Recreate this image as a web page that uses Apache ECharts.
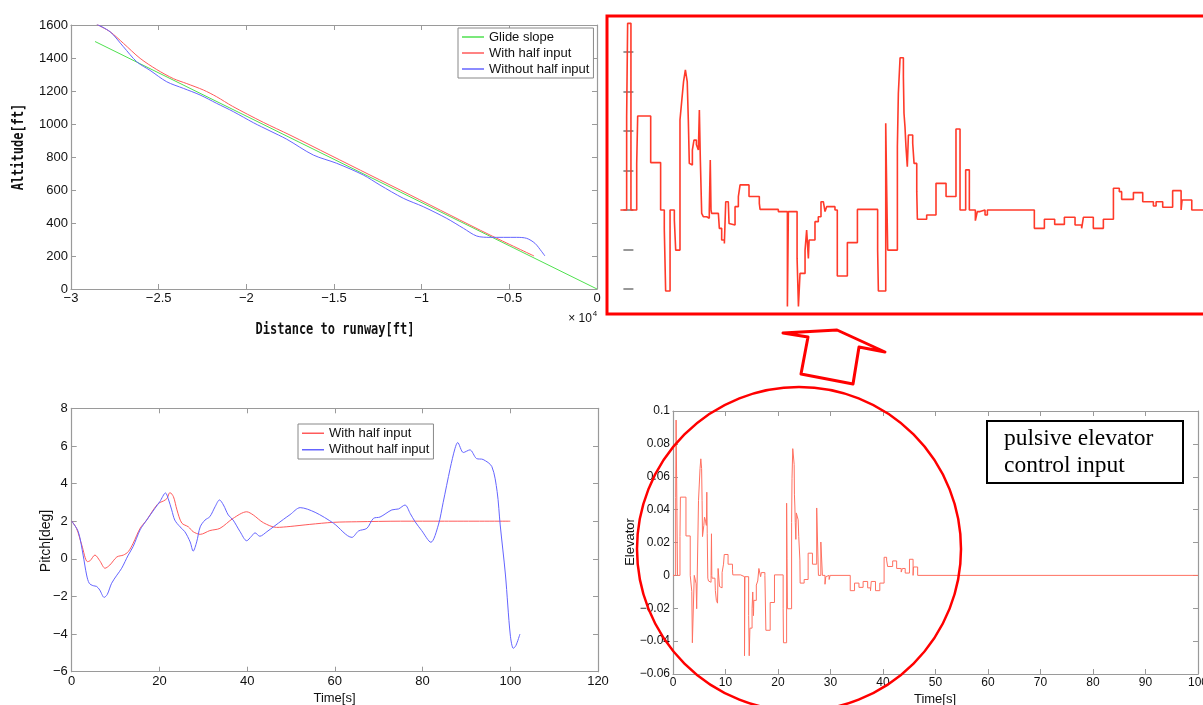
<!DOCTYPE html>
<html><head><meta charset="utf-8">
<script src="https://cdn.jsdelivr.net/npm/echarts@6/dist/echarts.min.js"></script>
<style>html,body{margin:0;padding:0;background:#fff}#c{width:1203px;height:705px}</style>
</head><body><div id="c"></div>
<script>
// ---------- Altitude vs distance (ft) ----------
const glideDist = [-28630, 0];
const glideAlt = [1500, 0];
const withDist = [-28530,-27770,-27010,-26060,-25110,-24160,-23400,-22450,-21690,-20800,-19030,-17510,-15230,-12950,-10660,-8380,-6100,-3590];
const withAlt  = [1604,1559,1489,1398,1330,1275,1245,1206,1165,1108,1010,933,812,691,570,448,327,200];
const withoutDist = [-28530,-27770,-27010,-26250,-25490,-24540,-23590,-22640,-21690,-20740,-19600,-18650,-17700,-16180,-14850,-13330,-12380,-11050,-9910,-8570,-7620,-6860,-6100,-4580,-4010,-3540,-3150,-2970];
const withoutAlt  = [1604,1559,1468,1377,1325,1256,1216,1176,1125,1075,1008,958,908,812,762,691,630,550,499,428,368,321,313,313,307,277,226,200];

// ---------- Pitch vs time ----------
const pitchWithT = [0,1.1,2.3,3.6,4.2,5.3,6.4,7.6,8.7,10.3,11.8,12.9,14.0,15.6,17.1,18.6,19.8,20.9,21.7,22.4,23.2,24.0,25.1,26.6,27.7,29.3,31.5,33.8,36.8,39.9,41.4,43.7,46.7,49.8,54.3,59.7,65,75,85,100];
const pitchWithV = [2.0,1.62,0.73,-0.15,-0.1,0.2,-0.1,-0.5,-0.33,0.1,0.2,0.38,0.82,1.62,2.06,2.6,2.95,3.07,3.2,3.52,3.3,2.6,1.9,1.7,1.44,1.3,1.5,1.62,2.15,2.5,2.33,1.92,1.67,1.72,1.83,1.94,1.97,2.0,2.0,2.0];
const pitchWithoutT = [0,1.5,2.6,3.4,4.0,4.9,5.7,6.4,7.4,8.1,9.1,10.3,11.4,12.9,14.0,15.6,17.1,19.0,20.1,21.4,22.0,22.8,23.5,24.7,25.8,27.0,27.7,28.5,29.3,30.4,31.5,32.7,33.7,34.6,35.7,36.8,38.4,39.9,41.0,41.8,42.9,44.5,46.0,48.3,49.8,52.1,55.5,59.7,63.9,65.4,67.3,68.8,70.3,73.0,74.5,76.0,77.2,78.3,79.8,81.9,83.6,84.7,86.3,87.4,88.0,89.3,90.8,92.3,93.8,95.8,97.0,97.7,98.9,100.0,100.7,101.3,102.2];
const pitchWithoutV = [2.0,1.44,0.2,-0.86,-1.3,-1.43,-1.47,-1.66,-2.05,-1.9,-1.3,-0.87,-0.5,0.2,0.65,1.54,2.06,2.69,3.04,3.5,3.2,2.6,2.06,1.7,1.44,0.9,0.41,0.9,1.7,2.06,2.24,2.77,3.13,2.86,2.33,2.06,1.44,0.96,1.2,1.38,1.2,1.44,1.7,2.1,2.35,2.72,2.47,1.89,1.14,1.48,1.62,2.15,2.22,2.6,2.65,2.86,2.4,1.97,1.5,0.88,1.8,3.0,4.81,5.87,6.18,5.65,5.79,5.33,5.28,4.9,3.57,1.8,-0.86,-4.05,-4.76,-4.6,-4.0];

// ---------- Elevator input (zero-order hold change points) ----------
const elevT = [0,0.51,0.59,0.86,1.33,1.41,2.47,3.28,3.58,3.69,4.05,4.40,4.51,4.86,5.0,5.15,5.3,5.45,5.54,5.62,5.75,5.87,6.0,6.2,6.36,6.44,6.52,6.63,6.76,7.04,7.25,7.33,7.39,7.44,7.99,8.07,8.26,8.48,8.59,8.80,8.86,9.02,9.35,9.62,9.76,10.49,11.33,11.39,12.88,13.62,13.70,14.41,14.52,14.65,15.06,15.19,15.33,15.39,15.87,16.14,16.36,16.55,16.69,16.82,17.50,17.69,18.51,19.33,20.98,21.04,21.64,21.72,21.80,22.59,22.67,22.81,23.08,23.13,23.21,23.29,23.40,23.49,23.84,23.95,24.17,24.22,24.98,25.74,26.56,27.37,27.70,28.16,28.46,28.95,29.11,29.33,29.74,29.93,33.76,34.58,35.42,36.21,37.08,37.62,37.76,38.57,39.39,40.21,40.69,40.88,41.84,42.60,43.47,43.69,44.23,45.04,45.73,45.81,46.60,100];
const elevV = [0,0.0473,0.0945,0,0.0236,0.0476,0.0240,0,-0.0098,-0.041,0,-0.0051,-0.0203,0.0456,0.055,0.065,0.0709,0.065,0.0456,0.0236,0.0228,0.0304,0.0354,0.033,0.0304,0.0506,0.0253,-0.0017,-0.0034,-0.0042,0,0.0253,0,-0.0017,-0.0008,-0.0093,-0.0152,-0.0169,0.0042,0.0034,-0.0068,-0.0076,0.0017,0.0068,0.0127,0.0068,0.0034,0.0003,-0.0008,-0.0489,-0.0008,-0.0245,-0.0489,-0.0321,-0.0203,-0.0101,-0.0245,-0.0152,-0.0059,-0.0034,0.0042,0.0037,-0.0008,0.0017,0,-0.0334,-0.0165,0.0003,-0.0203,-0.041,0.0439,0.0101,-0.0203,0.0321,0.0591,0.0771,0.0675,0.049,0.0422,0.0321,0.0219,0.038,0.0338,0.0236,0.0093,-0.0047,-0.0025,0.0135,0.0068,0.041,0,0.0203,0,-0.0054,-0.0008,0,-0.0025,0,-0.0093,-0.0047,-0.0073,-0.0037,-0.0076,-0.0093,-0.0037,-0.0093,-0.0047,0.011,0.0093,0.0054,0.0088,0.0042,0.002,0.0042,0.0014,0.0098,0,0.0051,0,0];

const legendTop = ['Glide slope', 'With half input', 'Without half input'];
const legendBottom = ['With half input', 'Without half input'];

const GREEN = '#4fe04f', RED = '#ff5a5a', BLUE = '#6464ff';
const AX = '#9a9a9a';
const pts = (xs, ys) => xs.map((x, i) => [x, ys[i]]);
const fmt = v => { const n = Number((+v).toFixed(4)); return n < 0 ? '\u2212' + String(-n) : String(n); };

function axisPair(kind, gridIndex, min, max, interval, fontSize, margin, formatter) {
  const common = {
    type: 'value', gridIndex, min, max, interval, splitLine: { show: false },
    axisLine: { show: true, onZero: false, lineStyle: { color: AX, width: 1.2 } },
    axisTick: { show: true, inside: true, length: 5, lineStyle: { color: AX, width: 1 } }
  };
  const main = Object.assign({}, common, {
    position: kind === 'x' ? 'bottom' : 'left',
    axisLabel: { show: true, margin, fontSize, fontFamily: 'Liberation Sans', color: '#111',
      formatter, showMinLabel: true, showMaxLabel: true, hideOverlap: false }
  });
  const opp = Object.assign({}, common, { position: kind === 'x' ? 'top' : 'right', axisLabel: { show: false } });
  return [main, opp];
}

const xAxes = [], yAxes = [];
xAxes.push(...axisPair('x', 0, -30000, 0, 5000, 13, 3, v => fmt(v / 10000)));   // 0,1
yAxes.push(...axisPair('y', 0, 0, 1600, 200, 13, 3, fmt));                       // 0,1
xAxes.push({ type: 'value', gridIndex: 1, min: 0, max: 47.5, show: false });     // 2
yAxes.push({ type: 'value', gridIndex: 1, min: -0.04, max: 0.08, interval: 0.02, position: 'left', offset: -3,
  axisLine: { show: false }, axisLabel: { show: false }, splitLine: { show: false },
  axisTick: { show: true, inside: true, length: 10, lineStyle: { color: '#777', width: 1.5 } } }); // 2
xAxes.push(...axisPair('x', 2, 0, 120, 20, 13, 3, fmt));                          // 3,4
yAxes.push(...axisPair('y', 2, -6, 8, 2, 13, 4, fmt));                            // 3,4
xAxes.push(...axisPair('x', 3, 0, 100, 10, 12, 3, fmt));                          // 5,6
yAxes.push(...axisPair('y', 3, -0.06, 0.1, 0.02, 12, 3, fmt));                    // 5,6

const lineS = (name, xi, yi, data, color, width, extra) => Object.assign({
  name, type: 'line', xAxisIndex: xi, yAxisIndex: yi, data, symbol: 'none', showSymbol: false,
  lineStyle: { color, width }, itemStyle: { color }, silent: true
}, extra || {});

const legendCommon = {
  orient: 'vertical', icon: 'rect', itemWidth: 22, itemHeight: 1.5, itemGap: 0,
  borderColor: '#888', borderWidth: 1, backgroundColor: '#fff', selectedMode: false,
  textStyle: { fontSize: 13, fontFamily: 'Liberation Sans', color: '#111' }
};

const option = {
  animation: false,
  backgroundColor: '#fff',
  grid: [
    { left: 71, top: 25, width: 526, height: 264, outerBoundsMode: 'none' },
    { left: 620.4, top: 52, width: 582.4, height: 237, outerBoundsMode: 'none' },
    { left: 71.7, top: 408.3, width: 526.3, height: 263.4, outerBoundsMode: 'none' },
    { left: 673, top: 411, width: 525, height: 263, outerBoundsMode: 'none' }
  ],
  xAxis: xAxes,
  yAxis: yAxes,
  legend: [
    Object.assign({}, legendCommon, { left: 458, top: 28, padding: [1, 4, 1, 4], data: legendTop,
      textStyle: Object.assign({}, legendCommon.textStyle, { lineHeight: 16 }) }),
    Object.assign({}, legendCommon, { left: 298, top: 424, padding: [1, 4, 1, 4], data: legendBottom,
      textStyle: Object.assign({}, legendCommon.textStyle, { lineHeight: 16.5 }) })
  ],
  series: [
    lineS('Glide slope', 0, 0, pts(glideDist, glideAlt), GREEN, 1),
    lineS('With half input', 0, 0, pts(withDist, withAlt), RED, 1, { smooth: 0.3 }),
    lineS('Without half input', 0, 0, pts(withoutDist, withoutAlt), BLUE, 1, { smooth: 0.3 }),
    lineS('Elevator (zoomed)', 2, 2, pts(elevT, elevV), '#ff3a2a', 1.6, { step: 'end', clip: false }),
    lineS('With half input', 3, 3, pts(pitchWithT, pitchWithV), RED, 1, { smooth: 0.3 }),
    lineS('Without half input', 3, 3, pts(pitchWithoutT, pitchWithoutV), BLUE, 1, { smooth: 0.3 }),
    lineS('Elevator', 5, 5, pts(elevT, elevV), '#ff7060', 1, { step: 'end' })
  ],
  graphic: [
    { type: 'text', x: 19, y: 147, rotation: Math.PI / 2, scaleY: 1.35, z: 50,
      style: { text: 'Altitude[ft]', fill: '#111', font: 'bold 12px "DejaVu Sans Mono"', align: 'center', verticalAlign: 'middle' } },
    { type: 'text', x: 335, y: 330, scaleY: 1.35, z: 50,
      style: { text: 'Distance to runway[ft]', fill: '#111', font: 'bold 12px "DejaVu Sans Mono"', align: 'center', verticalAlign: 'middle' } },
    { type: 'text', x: 580, y: 319, z: 50,
      style: { text: '\u00d7 10', fill: '#111', font: '12px "Liberation Sans"', align: 'center', verticalAlign: 'middle' } },
    { type: 'text', x: 595, y: 314, z: 50,
      style: { text: '4', fill: '#111', font: '8px "Liberation Sans"', align: 'center', verticalAlign: 'middle' } },
    { type: 'text', x: 46, y: 541, rotation: Math.PI / 2, z: 50,
      style: { text: 'Pitch[deg]', fill: '#111', font: '14px "Liberation Sans"', align: 'center', verticalAlign: 'middle' } },
    { type: 'text', x: 334.5, y: 698, z: 50,
      style: { text: 'Time[s]', fill: '#111', font: '13px "Liberation Sans"', align: 'center', verticalAlign: 'middle' } },
    { type: 'text', x: 630, y: 542, rotation: Math.PI / 2, z: 50,
      style: { text: 'Elevator', fill: '#111', font: '13px "Liberation Sans"', align: 'center', verticalAlign: 'middle' } },
    { type: 'text', x: 935, y: 699, z: 50,
      style: { text: 'Time[s]', fill: '#111', font: '13px "Liberation Sans"', align: 'center', verticalAlign: 'middle' } },
    { type: 'rect', z: 60, shape: { x: 607, y: 16, width: 640, height: 298 },
      style: { fill: 'none', stroke: '#ff0000', lineWidth: 3 } },
    { type: 'polygon', z: 60, shape: { points: [[783, 333], [837, 330], [885, 352], [859, 347], [853, 384], [801, 374], [808, 337]] },
      style: { fill: 'none', stroke: '#ff0000', lineWidth: 3, lineJoin: 'round' } },
    { type: 'circle', z: 60, shape: { cx: 799, cy: 549, r: 162 },
      style: { fill: 'none', stroke: '#ff0000', lineWidth: 2.5 } },
    { type: 'rect', z: 60, shape: { x: 987, y: 421, width: 196, height: 62 },
      style: { fill: '#fff', stroke: '#000', lineWidth: 2 } },
    { type: 'text', z: 61, x: 1004, y: 439,
      style: { text: 'pulsive elevator', fill: '#000', font: '23.5px "Liberation Serif"', align: 'left', verticalAlign: 'middle' } },
    { type: 'text', z: 61, x: 1004, y: 466,
      style: { text: 'control input', fill: '#000', font: '23.5px "Liberation Serif"', align: 'left', verticalAlign: 'middle' } }
  ]
};

const chart = echarts.init(document.getElementById('c'), null, { renderer: 'canvas' });
chart.setOption(option);
</script></body></html>
